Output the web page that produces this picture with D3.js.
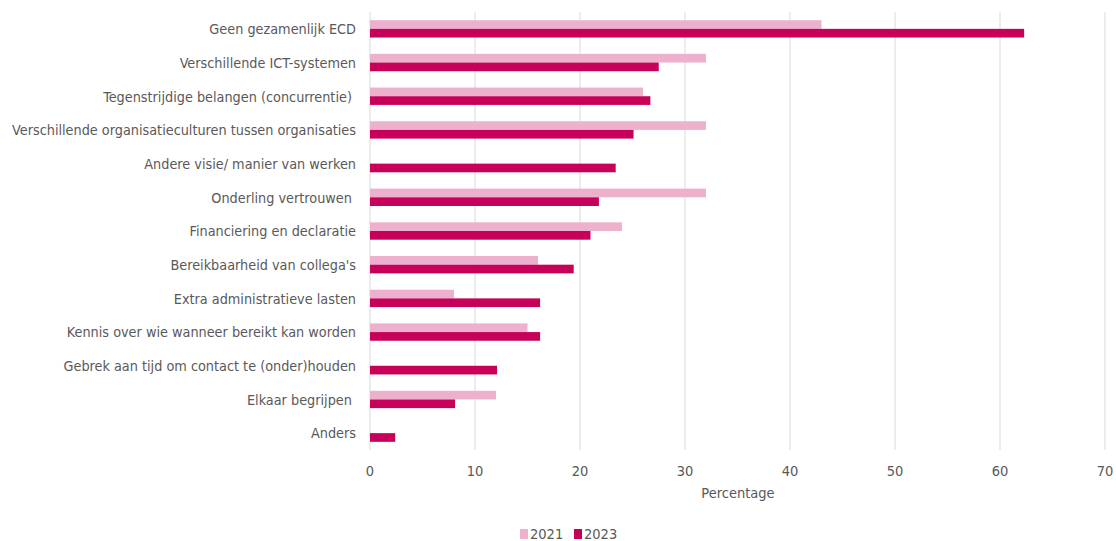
<!DOCTYPE html>
<html>
<head>
<meta charset="utf-8">
<script src="https://cdn.jsdelivr.net/npm/d3@7"></script>
<style>
  body { margin: 0; background: #fff; }
  svg text { font-family: "DejaVu Sans Condensed", "DejaVu Sans", sans-serif; fill: #595959; white-space: pre; }
</style>
</head>
<body>
<svg id="chart" width="1116" height="541"></svg>
<script>
var categories = [
  "Geen gezamenlijk ECD",
  "Verschillende ICT-systemen",
  "Tegenstrijdige belangen (concurrentie) ",
  "Verschillende organisatieculturen tussen organisaties",
  "Andere visie/ manier van werken",
  "Onderling vertrouwen ",
  "Financiering en declaratie",
  "Bereikbaarheid van collega's",
  "Extra administratieve lasten",
  "Kennis over wie wanneer bereikt kan worden",
  "Gebrek aan tijd om contact te (onder)houden",
  "Elkaar begrijpen ",
  "Anders"
];
var years = ["2021", "2023"];
var values2021 = [43, 32, 26, 32, null, 32, 24, 16, 8, 15, null, 12, null];
var values2023 = [62.3, 27.5, 26.7, 25.1, 23.4, 21.8, 21, 19.4, 16.2, 16.2, 12.1, 8.1, 2.4];
var xTicks = [0, 10, 20, 30, 40, 50, 60, 70];
var colors = ["#EDB1CE", "#C7005A"];

(function() {
  var svg = d3.select("#chart");
  var left = 370, right = 1105, plotTop = 12, plotBottom = 450;

  var x = d3.scaleLinear().domain([0, 70]).range([left, right]);
  var y = d3.scaleBand().domain(categories).range([plotTop, plotBottom])
    .paddingInner(0.485).paddingOuter(0.2425);
  var ySub = d3.scaleBand().domain(years).range([0, y.bandwidth()]);

  // gridlines
  svg.append("g").selectAll("line")
    .data(xTicks)
    .enter()
    .append("line")
    .attr("x1", function(d) { return x(d); })
    .attr("x2", function(d) { return x(d); })
    .attr("y1", plotTop)
    .attr("y2", plotBottom)
    .attr("stroke", "#d9d9d9")
    .attr("stroke-width", 1);

  // bars
  var series = [values2021, values2023];
  series.forEach(function(vals, s) {
    svg.append("g").selectAll("rect")
      .data(categories.map(function(c, i) { return { cat: c, v: vals[i] }; }).filter(function(d) { return d.v != null; }))
      .enter()
      .append("rect")
      .attr("x", x(0))
      .attr("y", function(d) { return y(d.cat) + ySub(years[s]); })
      .attr("width", function(d) { return x(d.v) - x(0); })
      .attr("height", ySub.bandwidth())
      .attr("fill", colors[s]);
  });

  // category labels
  svg.append("g").selectAll("text")
    .data(categories)
    .enter()
    .append("text")
    .attr("x", 356)
    .attr("y", function(d) { return y(d) + y.bandwidth() / 2 + 5.3; })
    .attr("text-anchor", "end")
    .attr("font-size", "14.3px")
    .text(function(d) { return d; });

  // x axis tick labels
  svg.append("g").selectAll("text")
    .data(xTicks)
    .enter()
    .append("text")
    .attr("x", function(d) { return x(d); })
    .attr("y", 476)
    .attr("text-anchor", "middle")
    .attr("font-size", "14.5px")
    .text(function(d) { return d; });

  svg.append("text")
    .attr("x", 738)
    .attr("y", 498)
    .attr("text-anchor", "middle")
    .attr("font-size", "14.5px")
    .text("Percentage");

  // legend
  var legend = svg.append("g").attr("transform", "translate(520,529)");
  var lx = [0, 54];
  years.forEach(function(yr, i) {
    legend.append("rect")
      .attr("x", lx[i]).attr("y", 0)
      .attr("width", 8).attr("height", 10)
      .attr("fill", colors[i]);
    legend.append("text")
      .attr("x", lx[i] + 10).attr("y", 10)
      .attr("font-size", "14.5px")
      .text(yr);
  });
})();
</script>
</body>
</html>
